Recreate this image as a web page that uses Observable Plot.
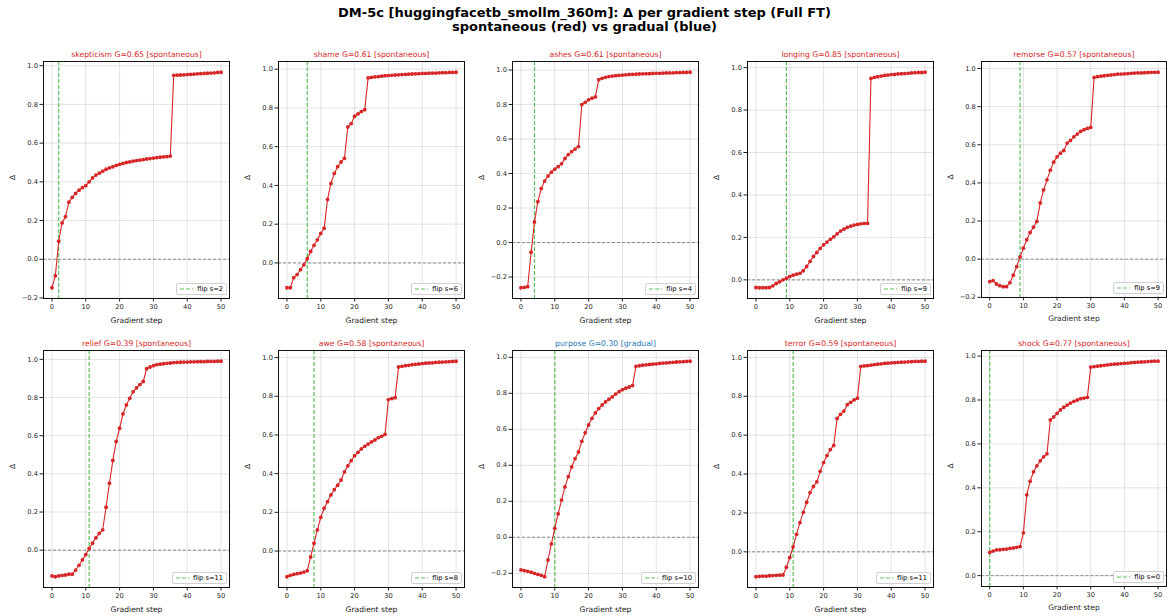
<!DOCTYPE html>
<html><head><meta charset="utf-8">
<script src="https://cdn.jsdelivr.net/npm/d3@7"></script>
<script src="https://cdn.jsdelivr.net/npm/@observablehq/plot@0.6"></script>
<style>
body{margin:0;background:#fff;}
#fig{position:relative;width:1169px;height:616px;overflow:hidden;font-family:"DejaVu Sans",sans-serif;background:#fff;}
.title{position:absolute;left:0;width:1169px;text-align:center;font-weight:bold;font-size:13px;line-height:15px;color:#000;}
.panel{position:absolute;}
.panel svg{overflow:visible;}
.panel svg [aria-label="x-axis label"] text{font-size:7.6px;}
.panel svg [aria-label="frame"]{shape-rendering:crispEdges;}
.legend{position:absolute;box-sizing:border-box;height:12px;border:0.8px solid #d0d0d0;border-radius:2px;background:rgba(255,255,255,0.85);font-size:6.7px;line-height:10px;white-space:nowrap;padding:0 3px 0 3px;display:flex;align-items:center;}
.legend svg{margin-right:4px;}
</style></head>
<body><div id="fig">
<div class="title" style="top:5px">DM-5c [huggingfacetb_smollm_360m]: Δ per gradient step (Full FT)</div>
<div class="title" style="top:19px">spontaneous (red) vs gradual (blue)</div>
</div>
<script>
// ---- data ----
const words = ["skepticism","shame","ashes","longing","remorse","relief","awe","purpose","terror","shock"];
const gValues = [0.65,0.61,0.61,0.85,0.57,0.39,0.58,0.30,0.59,0.77];
const kinds = ["spontaneous","spontaneous","spontaneous","spontaneous","spontaneous","spontaneous","spontaneous","gradual","spontaneous","spontaneous"];
const flips = [2,6,4,9,9,11,8,10,11,0];
const xTicks = [0,10,20,30,40,50];
const yTicks = [-0.2,0,0.2,0.4,0.6,0.8,1.0];

const skepticism = [-0.147,-0.085,0.093,0.188,0.22,0.295,0.32,0.34,0.357,0.37,0.38,0.40,0.42,0.435,0.445,0.455,0.465,0.472,0.478,0.485,0.49,0.495,0.50,0.503,0.507,0.51,0.512,0.515,0.518,0.52,0.523,0.525,0.527,0.529,0.53,0.533,0.95,0.951,0.952,0.953,0.954,0.955,0.956,0.958,0.959,0.960,0.961,0.962,0.963,0.965,0.966];
const shame = [-0.128,-0.128,-0.076,-0.06,-0.035,-0.01,0.022,0.059,0.091,0.119,0.152,0.179,0.328,0.41,0.462,0.497,0.521,0.54,0.702,0.719,0.757,0.769,0.781,0.791,0.955,0.958,0.96,0.962,0.964,0.966,0.967,0.968,0.97,0.971,0.972,0.973,0.974,0.975,0.976,0.977,0.978,0.978,0.979,0.98,0.98,0.981,0.982,0.982,0.983,0.983,0.984];
const ashes = [-0.262,-0.26,-0.256,-0.056,0.119,0.237,0.313,0.356,0.385,0.408,0.425,0.44,0.456,0.487,0.51,0.527,0.542,0.556,0.80,0.813,0.827,0.837,0.844,0.944,0.952,0.958,0.962,0.965,0.967,0.969,0.971,0.972,0.974,0.975,0.976,0.977,0.978,0.979,0.979,0.980,0.981,0.981,0.982,0.983,0.983,0.984,0.985,0.985,0.986,0.986,0.987];
const longing = [-0.036,-0.037,-0.037,-0.037,-0.036,-0.028,-0.017,-0.009,0.0,0.008,0.016,0.022,0.027,0.031,0.043,0.063,0.087,0.11,0.129,0.148,0.165,0.178,0.191,0.203,0.217,0.23,0.239,0.247,0.253,0.258,0.261,0.264,0.266,0.266,0.949,0.954,0.957,0.96,0.963,0.965,0.967,0.968,0.97,0.971,0.972,0.973,0.975,0.976,0.977,0.977,0.978];
const remorse = [-0.118,-0.112,-0.13,-0.139,-0.144,-0.144,-0.123,-0.084,-0.039,0.012,0.058,0.102,0.14,0.168,0.198,0.295,0.363,0.416,0.467,0.509,0.537,0.556,0.57,0.609,0.623,0.642,0.656,0.67,0.679,0.686,0.691,0.953,0.957,0.96,0.962,0.964,0.966,0.968,0.97,0.971,0.972,0.973,0.975,0.976,0.977,0.977,0.978,0.979,0.98,0.98,0.981];
const relief = [-0.135,-0.139,-0.135,-0.132,-0.13,-0.126,-0.126,-0.104,-0.079,-0.051,-0.023,0.009,0.037,0.065,0.088,0.107,0.225,0.351,0.47,0.57,0.639,0.714,0.761,0.796,0.83,0.851,0.868,0.884,0.951,0.96,0.967,0.972,0.975,0.977,0.979,0.981,0.983,0.984,0.985,0.986,0.986,0.987,0.987,0.988,0.988,0.988,0.989,0.989,0.989,0.99,0.99];
const awe = [-0.133,-0.126,-0.121,-0.117,-0.114,-0.109,-0.102,-0.031,0.04,0.109,0.174,0.221,0.255,0.29,0.317,0.34,0.367,0.409,0.44,0.467,0.493,0.51,0.528,0.541,0.553,0.564,0.574,0.586,0.593,0.603,0.783,0.788,0.793,0.952,0.955,0.958,0.96,0.963,0.965,0.967,0.969,0.971,0.972,0.973,0.975,0.976,0.977,0.978,0.979,0.98,0.981];
const purpose = [-0.181,-0.185,-0.189,-0.194,-0.2,-0.206,-0.211,-0.219,-0.126,-0.037,0.05,0.131,0.207,0.28,0.337,0.391,0.437,0.474,0.533,0.581,0.624,0.661,0.691,0.715,0.735,0.752,0.767,0.78,0.796,0.809,0.82,0.828,0.835,0.843,0.95,0.953,0.956,0.958,0.96,0.962,0.964,0.966,0.968,0.969,0.971,0.972,0.974,0.975,0.976,0.977,0.978];
const terror = [-0.128,-0.126,-0.125,-0.125,-0.123,-0.122,-0.121,-0.12,-0.119,-0.079,-0.029,0.026,0.09,0.15,0.203,0.255,0.305,0.336,0.36,0.414,0.459,0.495,0.526,0.547,0.686,0.707,0.724,0.757,0.769,0.781,0.79,0.953,0.956,0.958,0.96,0.963,0.965,0.967,0.969,0.97,0.972,0.973,0.974,0.975,0.976,0.977,0.978,0.979,0.979,0.98,0.98];
const shock = [0.106,0.112,0.117,0.118,0.12,0.121,0.124,0.126,0.129,0.132,0.195,0.368,0.43,0.473,0.5,0.523,0.541,0.555,0.709,0.723,0.739,0.755,0.767,0.777,0.786,0.794,0.8,0.806,0.809,0.812,0.95,0.952,0.954,0.956,0.958,0.96,0.962,0.963,0.964,0.966,0.967,0.968,0.97,0.971,0.972,0.973,0.974,0.975,0.976,0.977,0.977];
const seriesList = [skepticism,shame,ashes,longing,remorse,relief,awe,purpose,terror,shock];

// ---- layout ----
const colLeft = [0,235,469,704,938];
const rowTop = [40,329];
const mL = 43, mR = 3, mT = 21, mB = 31, frameW = 186, frameH = 237;
const RED = "#d62728", BLUE = "#1f77b4", GREEN = "#5cbf5c";

const fig = document.getElementById("fig");
seriesList.forEach((vals, i) => {
  const row = Math.floor(i / 5), col = i % 5;
  const data = vals.map((v, s) => ({step: s, delta: v}));
  const lo = Math.min(0, d3.min(vals)), hi = Math.max(0, d3.max(vals));
  const pad = (hi - lo) * 0.05;
  const dom = [lo - pad, hi + pad];
  const yt = yTicks.filter(t => t >= dom[0] - 1e-9 && t <= dom[1] + 1e-9);
  const titleColor = kinds[i] === "gradual" ? BLUE : RED;
  const chart = Plot.plot({
    width: mL + frameW + mR,
    height: mT + frameH + mB,
    marginLeft: mL, marginRight: mR, marginTop: mT, marginBottom: mB,
    style: {fontFamily: "DejaVu Sans", fontSize: "6.7px", background: "transparent", color: "#222"},
    x: {domain: [-2.5, 52.5]},
    y: {domain: dom},
    marks: [
      Plot.gridX(xTicks, {stroke: "#b0b0b0", strokeOpacity: 0.45, strokeWidth: 0.8}),
      Plot.gridY(yt, {stroke: "#b0b0b0", strokeOpacity: 0.45, strokeWidth: 0.8}),
      Plot.axisX(xTicks, {tickSize: 3.5, tickPadding: 2, tickFormat: d3.format("d"), label: "Gradient step", labelAnchor: "center", labelArrow: "none", labelOffset: 24}),
      Plot.axisY(yt, {tickSize: 3.5, tickPadding: 2, tickFormat: d3.format(".1f"), label: null}),
      Plot.text(["Δ"], {frameAnchor: "left", dx: -31, rotate: -90, fontSize: 7.6, fill: "#222"}),
      Plot.ruleY([0], {stroke: "#555", strokeOpacity: 0.8, strokeWidth: 0.8, strokeDasharray: "3,2"}),
      Plot.ruleX([flips[i]], {stroke: GREEN, strokeWidth: 1.2, strokeDasharray: "4,2"}),
      Plot.line(data, {x: "step", y: "delta", stroke: RED, strokeWidth: 1.1}),
      Plot.dot(data, {x: "step", y: "delta", fill: RED, r: 1.9}),
      Plot.frame({stroke: "#111", strokeWidth: 1.1}),
      Plot.text([`${words[i]} G=${gValues[i].toFixed(2)} [${kinds[i]}]`], {frameAnchor: "top", dy: -10, fill: titleColor, fontSize: 7.7})
    ]
  });
  const wrap = document.createElement("div");
  wrap.className = "panel";
  wrap.style.left = colLeft[col] + "px";
  wrap.style.top = rowTop[row] + "px";
  wrap.appendChild(chart);
  const leg = document.createElement("div");
  leg.className = "legend";
  leg.style.right = (mR + 2) + "px";
  leg.style.bottom = (mB + 3) + "px";
  leg.innerHTML = `<svg width="13" height="4"><line x1="0" y1="2" x2="13" y2="2" stroke="${GREEN}" stroke-width="1.2" stroke-dasharray="4,2"/></svg><span>flip s=${flips[i]}</span>`;
  wrap.appendChild(leg);
  fig.appendChild(wrap);
});
</script>
</body></html>
